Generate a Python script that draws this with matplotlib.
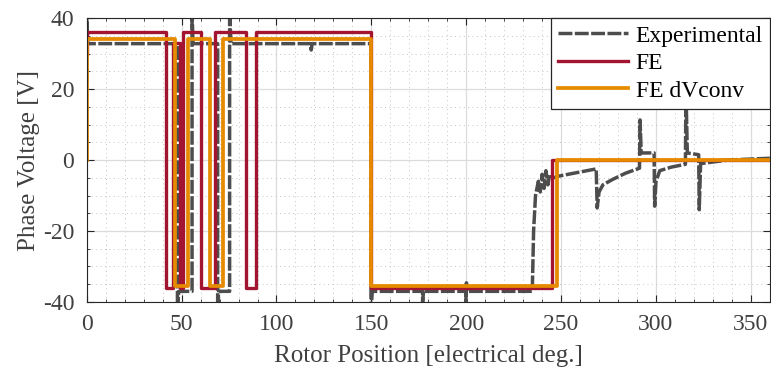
import matplotlib.pyplot as plt
from matplotlib.ticker import MultipleLocator

plt.rc('font', family='Liberation Serif', size=17)
plt.rc('axes', unicode_minus=False)

# Experimental trace (rotor position in electrical deg., phase voltage in V)
exp_pos = [0, 0, 0.5, 47.8, 47.8, 48.5, 55.5, 55.5, 56, 69, 69, 69.5, 75.3, 75.3, 76,
           118, 118.3, 118.8, 149.8, 149.8, 150.5, 177, 177, 177.5, 199.8, 199.8, 200.1,
           200.4, 234.8, 235.5, 236.5, 238, 239, 240, 241, 242, 243, 244, 246, 249,
           268.5, 269, 270, 272, 277, 284, 291.3, 291.6, 292.2, 299, 299.3, 300, 302,
           308, 315.5, 315.8, 316.5, 322.5, 322.8, 323.5, 338, 360]
exp_volt = [22, 42, 32.8, 32.8, -42, -37, -37, 42, 32.8, 32.8, -42, -37, -37, 42, 32.8,
            32.8, 31, 32.8, 32.8, -42, -37, -37, -40, -37, -37, -40, -34.6,
            -37, -37, -20, -10, -6, -9, -4, -8, -3, -7, -4, -5, -4.5,
            -2.5, -13.5, -9, -7, -5.5, -3.7, -2.3, 11.3, 2, 2, -13, -6, -3,
            -2, -1.2, 20, 2, 1.5, -14, -1, 0, 0.5]

# FE model
fe_pos = [0, 0, 42, 42, 45.5, 45.5, 48.9, 48.9, 50.7, 50.7, 60.3, 60.3, 67.4, 67.4,
          84, 84, 89.2, 89.2, 150, 150, 245.3, 245.3, 360]
fe_volt = [30, 36, 36, -36, -36, 33, 33, -36, -36, 36, 36, -36, -36, 36,
           36, -36, -36, 36, 36, -36, -36, 0, 0]

# FE model with dV conversion
dv_pos = [0, 0, 46.3, 46.3, 53.3, 53.3, 64.7, 64.7, 71.7, 71.7, 150, 150, 247.8, 247.8, 360]
dv_volt = [0, 34, 34, -35.5, -35.5, 34, 34, -35.5, -35.5, 34, 34, -35.5, -35.5, 0, 0]

fig = plt.figure(figsize=(7.71, 3.77), dpi=100)
ax = fig.add_axes([0.1125, 0.199, 0.886, 0.753])

ax.plot(exp_pos, exp_volt, color='#4d4d4d', lw=2.5, dashes=(4, 0.7), label='Experimental')
ax.plot(fe_pos, fe_volt, color='#a2142f', lw=2.4, label='FE')
ax.plot(dv_pos, dv_volt, color='#e68a00', lw=2.7, label='FE dVconv')

ax.set_xlim(0, 360)
ax.set_ylim(-40, 40)
ax.xaxis.set_major_locator(MultipleLocator(50))
ax.xaxis.set_minor_locator(MultipleLocator(10))
ax.yaxis.set_major_locator(MultipleLocator(20))
ax.yaxis.set_minor_locator(MultipleLocator(5))
ax.grid(which='major', color='#dcdcdc', lw=0.9, ls='-')
ax.grid(which='minor', color='#c4c4c4', lw=0.7, ls=(0, (1, 3.5)))
ax.set_axisbelow(True)
ax.tick_params(direction='in', which='both', top=True, right=True, colors='#262626',
               labelcolor='#404040')
ax.tick_params(which='major', length=5, pad=9)
ax.tick_params(which='minor', length=2.5)
for s in ax.spines.values():
    s.set_color('#262626')

ax.set_xlabel('Rotor Position [electrical deg.]', color='#404040', fontsize=18, labelpad=7)
ax.set_ylabel('Phase Voltage [V]', color='#404040', fontsize=18, labelpad=2)

leg = ax.legend(loc='upper right', handlelength=3.0, handletextpad=0.3, borderpad=0.3,
                labelspacing=0.25, fancybox=False, framealpha=1, edgecolor='#262626',
                borderaxespad=0.0)
leg.get_frame().set_linewidth(0.9)

fig.savefig('out.png', dpi=100)
